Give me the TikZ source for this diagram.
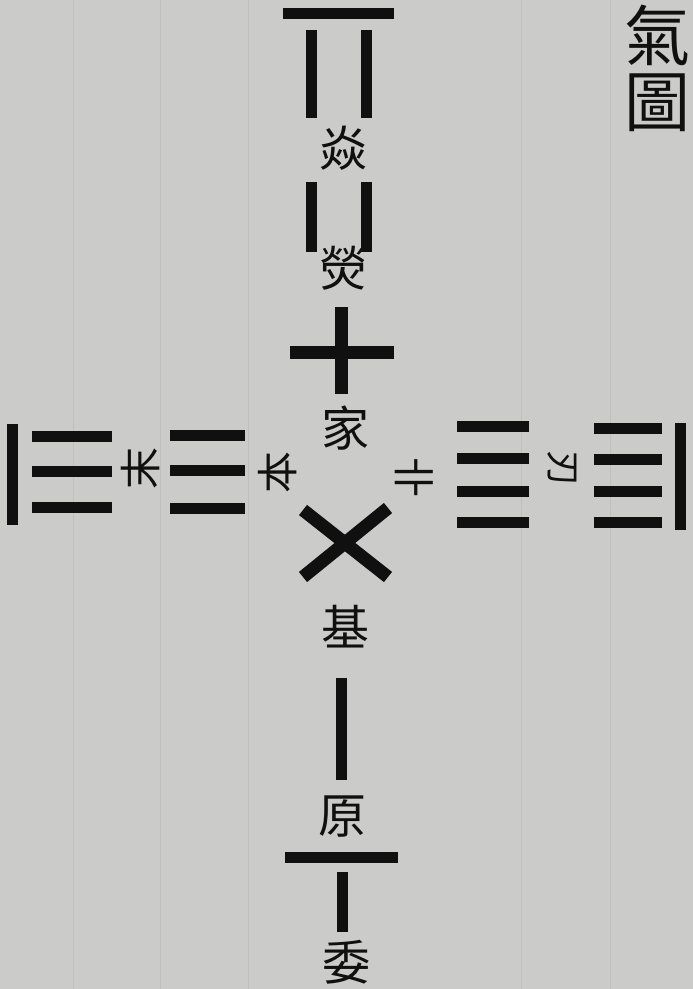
\documentclass[tikz,border=0pt]{standalone}
\usepackage{fontspec}
\usepackage{xcolor}
\usepackage{tikz}
\usetikzlibrary{positioning}
\newfontfamily\cjk{Noto Sans CJK TC}
\definecolor{paper}{RGB}{203,203,201}
\definecolor{ink}{RGB}{16,16,16}
\definecolor{ruling}{RGB}{192,192,190}

\begin{document}
\begin{tikzpicture}[x=1pt, y=-1pt,
      bar/.style={draw=ink, line width=11pt},
      crossbar/.style={draw=ink, line width=13pt},
      rule/.style={draw=ruling, line width=1pt},
      hz/.style={text=ink, inner sep=0pt, font=\cjk\fontsize{48}{48}\selectfont},
      sidehz/.style={text=ink, inner sep=0pt, font=\cjk\fontsize{42}{42}\selectfont},
      titlehz/.style={text=ink, inner sep=0pt, font=\cjk\fontsize{66}{66}\selectfont}
    ]
      % --- page ---
      \fill[paper] (0,0) rectangle (693,989);
      \useasboundingbox (0,0) rectangle (693,989);
      \foreach \rx in {73,160,248,521,610}
        \draw[rule] (\rx,0) -- (\rx,989);

      % --- title, top right ---
      \node[titlehz] (qi) at (657,35) {氣};
      \node[titlehz, below=8pt of qi] (tu) {圖};

      % --- upper column ---
      \draw[bar] (283,13) -- (394,13);
      \draw[bar] (311,30) -- (311,118);
      \draw[bar] (366,30) -- (366,118);
      \node[hz] (yan) at (343,148) {焱};
      \draw[bar] (311,182) -- (311,252);
      \draw[bar] (366,182) -- (366,252);
      \node[hz] (ying) at (343,268) {熒};
      \draw[crossbar] (290,352) -- (394,352);
      \draw[crossbar] (341,307) -- (341,394);
      \node[hz] (jia) at (345,428) {家};

      % --- centre cross ---
      \draw[crossbar] (303,510) -- (388,577);
      \draw[crossbar] (388,508) -- (303,577);

      % --- lower column ---
      \node[hz] (ji) at (345,627) {基};
      \draw[bar] (341,678) -- (341,780);
      \node[hz] (yuan) at (342,817) {原};
      \draw[bar] (285,857) -- (398,857);
      \draw[bar] (342,872) -- (342,932);
      \node[hz] (wei) at (346,962) {委};

      % --- left arm ---
      \draw[bar] (12,424) -- (12,525);
      \foreach \ry in {436,471,507}
        \draw[bar] (32,\ry) -- (112,\ry);
      \node[sidehz, rotate=90] (mo) at (141,468) {末};
      \foreach \ry in {435,470,508}
        \draw[bar] (170,\ry) -- (245,\ry);
      \node[sidehz, rotate=90] (ben) at (278,472) {本};

      % --- right arm ---
      \node[sidehz, rotate=-90] (guan) at (414,477) {卝};
      \foreach \ry in {426,458,491,522}
        \draw[bar] (457,\ry) -- (529,\ry);
      \node[sidehz, rotate=-90, font=\cjk\fontsize{36}{36}\selectfont] (ren) at (562,468) {刃};
      \foreach \ry in {428,459,491,522}
        \draw[bar] (594,\ry) -- (662,\ry);
      \draw[bar] (680,423) -- (680,530);
    \end{tikzpicture}
\end{document}
